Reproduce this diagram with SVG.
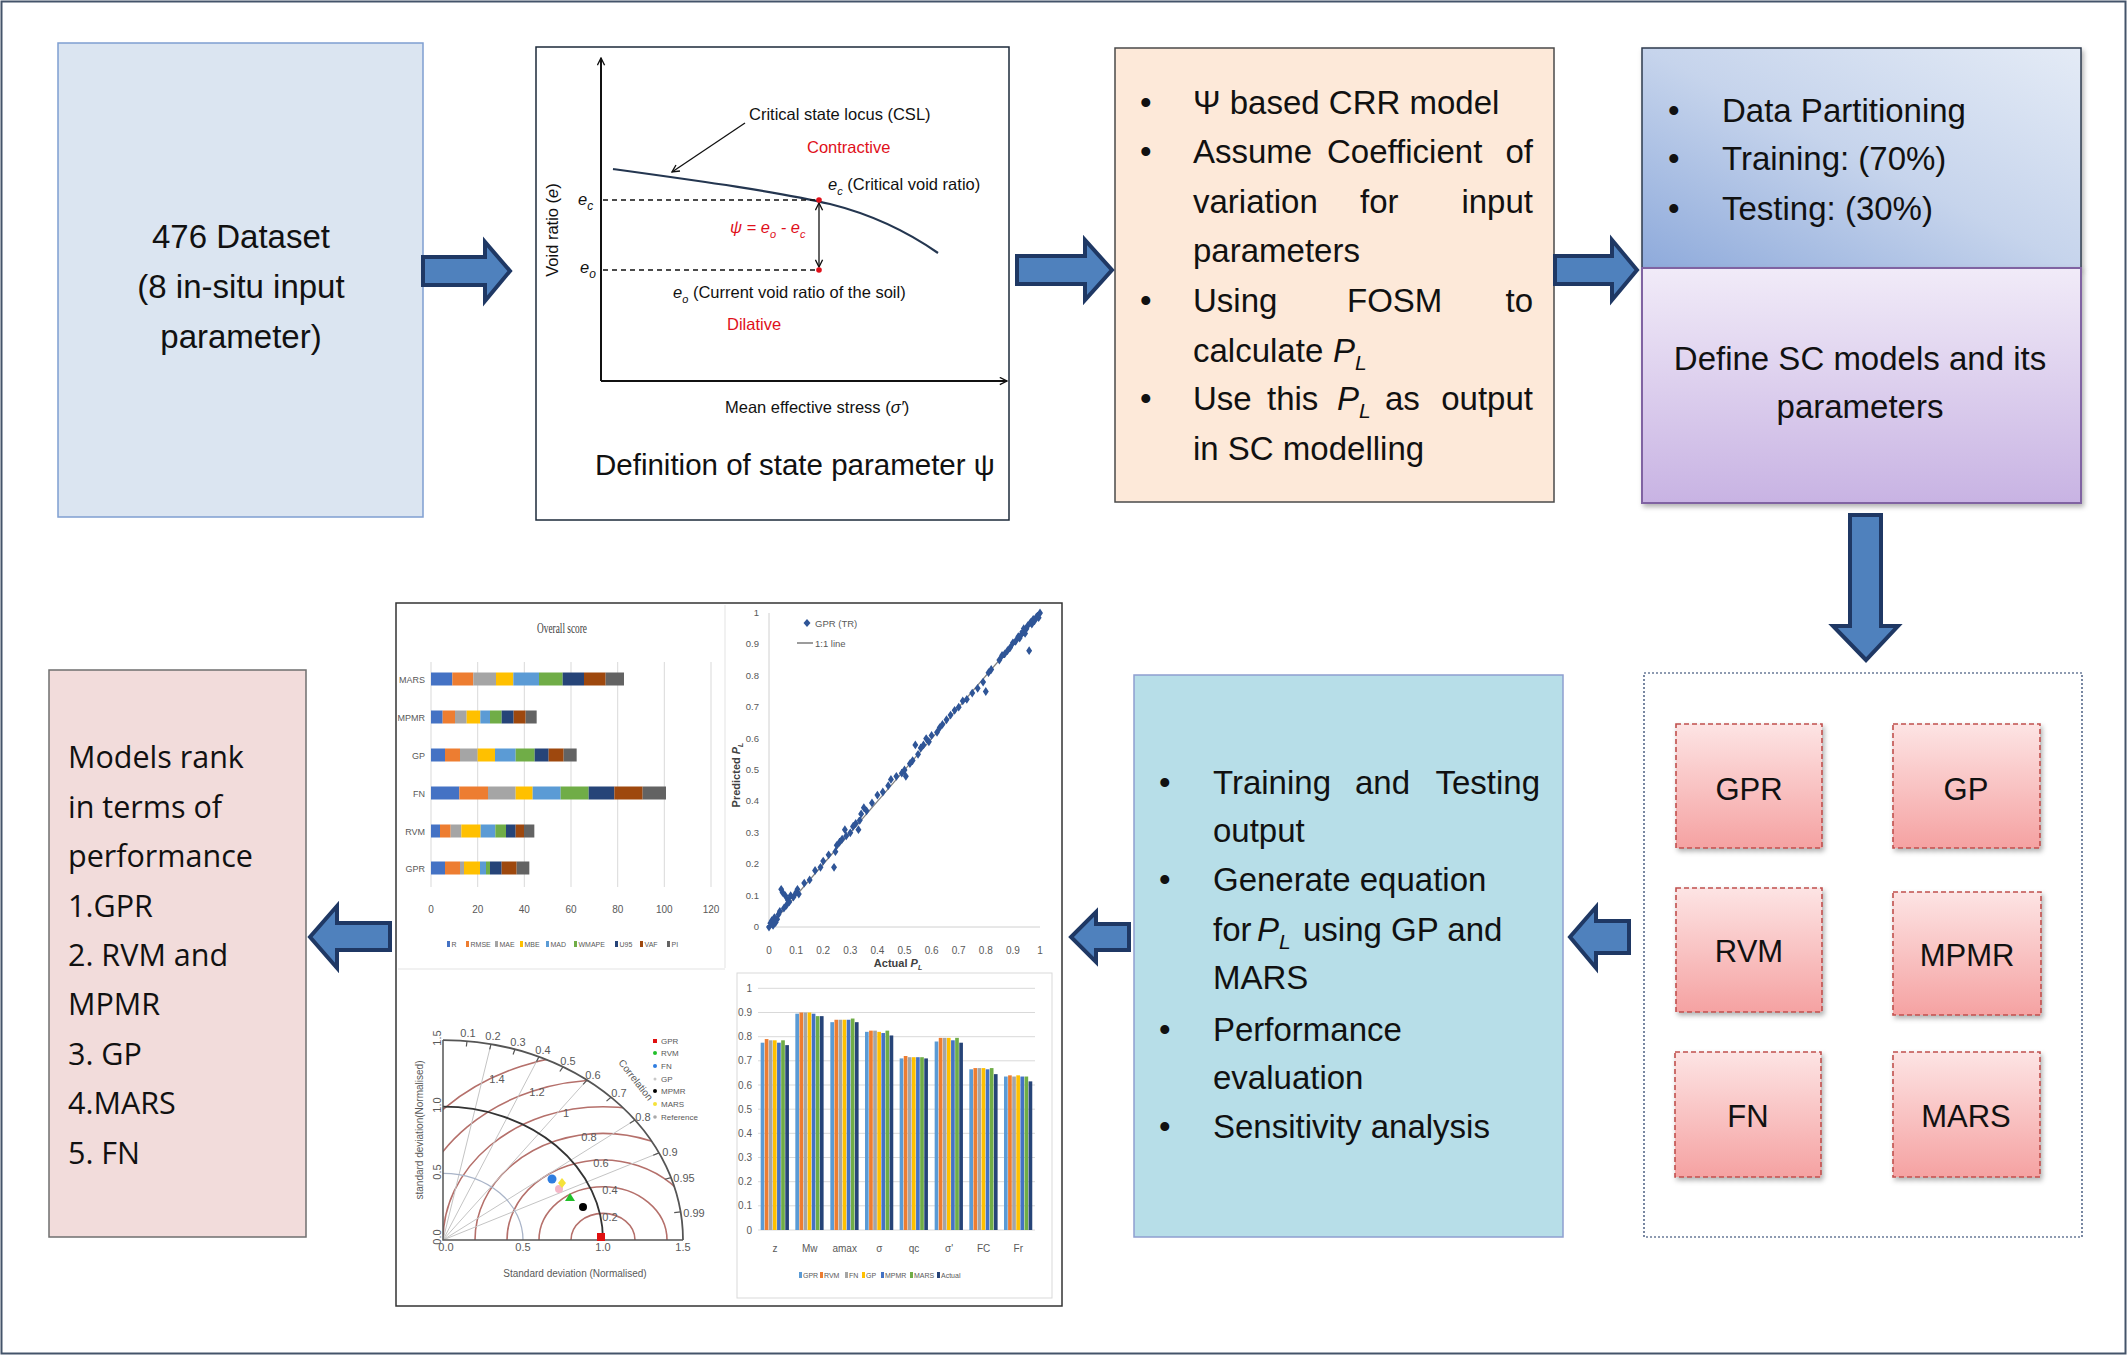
<svg xmlns="http://www.w3.org/2000/svg" width="2128" height="1356" viewBox="0 0 2128 1356">
<defs>
<style>
.t{font-family:"Liberation Sans",Arial,sans-serif;fill:#111;}
.big{font-size:33px;}
.os{font-family:"Open Sans","Liberation Sans",sans-serif;font-size:30.5px;fill:#111;}
.sm{font-family:"Liberation Sans",Arial,sans-serif;font-size:16.5px;fill:#111;}
.red{fill:#e0101a;}
.it{font-style:italic;}
.ch{font-family:"Liberation Sans Narrow","Liberation Sans",Arial,sans-serif;fill:#595959;}
.arrow{fill:#4f81bd;stroke:#1f3864;stroke-width:4;stroke-linejoin:miter;}
.model{fill:url(#gModel);stroke:#c0504d;stroke-width:1.6;stroke-dasharray:5 3;}
.grid{stroke:#d9d9d9;stroke-width:1;}
.s1{fill:#4472c4}.s2{fill:#ed7d31}.s3{fill:#a5a5a5}.s4{fill:#ffc000}.s5{fill:#5b9bd5}.s6{fill:#70ad47}.s7{fill:#264478}.s8{fill:#9e480e}.s9{fill:#636363}
.nss,.nss *{vector-effect:non-scaling-stroke;fill:none;}
</style>
<linearGradient id="gTop" x1="0" y1="1" x2="1" y2="0">
<stop offset="0" stop-color="#8eaadb"/><stop offset="0.5" stop-color="#c6d4ec"/><stop offset="1" stop-color="#e4ebf6"/>
</linearGradient>
<linearGradient id="gBot" x1="0" y1="0" x2="0" y2="1">
<stop offset="0" stop-color="#f1ebf8"/><stop offset="1" stop-color="#c8b3e3"/>
</linearGradient>
<linearGradient id="gModel" x1="0" y1="0" x2="0" y2="1">
<stop offset="0" stop-color="#fde4e4"/><stop offset="1" stop-color="#f5a2a2"/>
</linearGradient>
<filter id="sh" x="-10%" y="-10%" width="130%" height="130%">
<feDropShadow dx="2" dy="3" stdDeviation="2.5" flood-color="#000" flood-opacity="0.3"/>
</filter>
<marker id="mArr" viewBox="0 0 10 10" refX="9" refY="5" markerWidth="9" markerHeight="9" orient="auto-start-reverse" markerUnits="userSpaceOnUse">
<path d="M1,1 L9,5 L1,9" fill="none" stroke="#111" stroke-width="1.5"/>
</marker>
<clipPath id="tq"><path d="M0,0 L1.5,0 A1.5,1.5 0 0,1 0,1.5 Z"/></clipPath>
</defs>

<rect x="1.5" y="1.5" width="2124" height="1352" fill="#fff" stroke="#44546a" stroke-width="2"/>

<!-- Node 1 -->
<g id="n-dataset">
<rect x="58" y="43" width="365" height="474" fill="#dbe5f1" stroke="#7f9ed1" stroke-width="1.5"/>
<text class="t big" text-anchor="middle" x="241" y="248">476 Dataset</text>
<text class="t big" text-anchor="middle" x="241" y="298">(8 in-situ input</text>
<text class="t big" text-anchor="middle" x="241" y="348">parameter)</text>
</g>

<!-- Node 2 -->
<g id="n-state-parameter">
<rect x="536" y="47" width="473" height="473" fill="#fff" stroke="#1c2a3a" stroke-width="1.5"/>
<line x1="601" y1="381" x2="601" y2="58" stroke="#111" stroke-width="2" marker-end="url(#mArr)"/>
<line x1="601" y1="381" x2="1007" y2="381" stroke="#111" stroke-width="2" marker-end="url(#mArr)"/>
<path d="M613,169 C700,181 780,192 830,204 C870,214 905,230 938,253" fill="none" stroke="#243650" stroke-width="2.2"/>
<line x1="603" y1="200" x2="819" y2="200" stroke="#111" stroke-width="1.4" stroke-dasharray="5 4"/>
<line x1="603" y1="270" x2="819" y2="270" stroke="#111" stroke-width="1.4" stroke-dasharray="5 4"/>
<line x1="819" y1="203" x2="819" y2="267" stroke="#111" stroke-width="1.3" marker-start="url(#mArr)" marker-end="url(#mArr)"/>
<circle cx="819" cy="200" r="2.8" fill="#e0101a"/>
<circle cx="819" cy="270" r="2.8" fill="#e0101a"/>
<line x1="745" y1="123" x2="672" y2="172" stroke="#111" stroke-width="1.3" marker-end="url(#mArr)"/>
<text class="sm" transform="translate(558,230) rotate(-90)" text-anchor="middle">Void ratio (<tspan class="it">e</tspan>)</text>
<text class="sm it" x="578" y="205" font-size="18">e<tspan dy="5" font-size="12">c</tspan></text>
<text class="sm it" x="580" y="273" font-size="18">e<tspan dy="5" font-size="12">o</tspan></text>
<text class="sm" x="749" y="120">Critical state locus (CSL)</text>
<text class="sm red" x="807" y="153">Contractive</text>
<text class="sm" x="828" y="190"><tspan class="it">e</tspan><tspan class="it" dy="5" font-size="11">c</tspan><tspan dy="-5"> (Critical void ratio)</tspan></text>
<text class="sm red it" x="730" y="233">ψ = e<tspan dy="5" font-size="11">o</tspan><tspan dy="-5"> - e</tspan><tspan dy="5" font-size="11">c</tspan></text>
<text class="sm" x="673" y="298"><tspan class="it">e</tspan><tspan class="it" dy="5" font-size="11">o</tspan><tspan dy="-5"> (Current void ratio of the soil)</tspan></text>
<text class="sm red" x="727" y="330">Dilative</text>
<text class="sm" x="725" y="413">Mean effective stress (<tspan class="it">σ′</tspan>)</text>
<text class="t" x="595" y="475" font-size="29.5">Definition of state parameter ψ</text>
</g>

<!-- Node 3 -->
<g id="n-crr-model">
<rect x="1115" y="48" width="439" height="454" fill="#fde9d9" stroke="#4a4a4a" stroke-width="1.5"/>
<g class="t big">
<text x="1140" y="114">•</text>
<text x="1193" y="114">Ψ based  CRR model</text>
<text x="1140" y="163">•</text>
<text x="1193" y="163">Assume</text><text x="1327" y="163">Coefficient</text><text x="1533" y="163" text-anchor="end">of</text>
<text x="1193" y="213">variation</text><text x="1360" y="213">for</text><text x="1533" y="213" text-anchor="end">input</text>
<text x="1193" y="262">parameters</text>
<text x="1140" y="312">•</text>
<text x="1193" y="312">Using</text><text x="1347" y="312">FOSM</text><text x="1533" y="312" text-anchor="end">to</text>
<text x="1193" y="362">calculate</text><text x="1333" y="362" class="it">P<tspan dy="8" font-size="21">L</tspan></text>
<text x="1140" y="410">•</text>
<text x="1193" y="410">Use</text><text x="1267" y="410">this</text><text x="1337" y="410" class="it">P<tspan dy="8" font-size="21">L</tspan></text><text x="1385" y="410">as</text><text x="1533" y="410" text-anchor="end">output</text>
<text x="1193" y="460">in SC modelling</text>
</g>
</g>

<!-- Node 4 -->
<g id="n-partitioning">
<rect x="1642" y="48" width="439" height="220" fill="url(#gTop)" stroke="#2e3b4e" stroke-width="1.5" filter="url(#sh)"/>
<g class="t big">
<text x="1668" y="122">•</text><text x="1722" y="122">Data Partitioning</text>
<text x="1668" y="170">•</text><text x="1722" y="170">Training: (70%)</text>
<text x="1668" y="220">•</text><text x="1722" y="220">Testing: (30%)</text>
</g>
</g>
<g id="n-define-sc">
<rect x="1642" y="268" width="439" height="235" fill="url(#gBot)" stroke="#8064a2" stroke-width="2" filter="url(#sh)"/>
<text class="t big" text-anchor="middle" x="1860" y="370">Define SC models and its</text>
<text class="t big" text-anchor="middle" x="1860" y="418">parameters</text>
</g>

<!-- Models container -->
<g id="n-models">
<rect x="1644" y="673" width="438" height="564" fill="#fff" stroke="#1f3864" stroke-width="1.2" stroke-dasharray="2 2"/>
<g id="m-gpr"><rect class="model" x="1676" y="724" width="146" height="124" filter="url(#sh)"/><text class="t" font-size="31" text-anchor="middle" x="1749" y="800">GPR</text></g>
<g id="m-gp"><rect class="model" x="1893" y="724" width="147" height="124" filter="url(#sh)"/><text class="t" font-size="31" text-anchor="middle" x="1966" y="800">GP</text></g>
<g id="m-rvm"><rect class="model" x="1676" y="888" width="146" height="124" filter="url(#sh)"/><text class="t" font-size="31" text-anchor="middle" x="1749" y="962">RVM</text></g>
<g id="m-mpmr"><rect class="model" x="1893" y="892" width="148" height="123" filter="url(#sh)"/><text class="t" font-size="31" text-anchor="middle" x="1967" y="966">MPMR</text></g>
<g id="m-fn"><rect class="model" x="1675" y="1052" width="146" height="125" filter="url(#sh)"/><text class="t" font-size="31" text-anchor="middle" x="1748" y="1127">FN</text></g>
<g id="m-mars"><rect class="model" x="1893" y="1052" width="147" height="125" filter="url(#sh)"/><text class="t" font-size="31" text-anchor="middle" x="1966" y="1127">MARS</text></g>
</g>

<!-- Node: outputs -->
<g id="n-outputs">
<rect x="1134" y="675" width="429" height="562" fill="#b7dee8" stroke="#8e9fd0" stroke-width="1.5"/>
<g class="t big">
<text x="1159" y="794">•</text>
<text x="1213" y="794">Training</text><text x="1355" y="794">and</text><text x="1540" y="794" text-anchor="end">Testing</text>
<text x="1213" y="842">output</text>
<text x="1159" y="891">•</text>
<text x="1213" y="891">Generate equation</text>
<text x="1213" y="941">for</text><text x="1257" y="941" class="it">P<tspan dy="8" font-size="21">L</tspan></text><text x="1303" y="941">using GP and</text>
<text x="1213" y="989">MARS</text>
<text x="1159" y="1041">•</text>
<text x="1213" y="1041">Performance</text>
<text x="1213" y="1089">evaluation</text>
<text x="1159" y="1138">•</text>
<text x="1213" y="1138">Sensitivity analysis</text>
</g>
</g>

<!-- Node: charts -->
<g id="n-charts">
<rect x="396" y="603" width="666" height="703" fill="#fff" stroke="#333" stroke-width="1.5"/>
<line x1="725" y1="605" x2="725" y2="968" stroke="#e3e3e3"/>
<line x1="398" y1="969" x2="725" y2="969" stroke="#e3e3e3"/>

<!-- Overall score -->
<g id="c-overall">
<text x="562" y="633" font-family="'Liberation Serif',serif" font-size="14" fill="#404040" text-anchor="middle" textLength="50" lengthAdjust="spacingAndGlyphs">Overall score</text>
<g class="grid">
<line x1="431" y1="662" x2="431" y2="887"/><line x1="477.7" y1="662" x2="477.7" y2="887"/><line x1="524.3" y1="662" x2="524.3" y2="887"/><line x1="571" y1="662" x2="571" y2="887"/><line x1="617.7" y1="662" x2="617.7" y2="887"/><line x1="664.3" y1="662" x2="664.3" y2="887"/><line x1="711" y1="662" x2="711" y2="887"/>
</g>
<g transform="translate(390,0) scale(0.33333,1)">
<rect class="s1" x="123" y="672.5" width="64" height="13"/><rect class="s2" x="187" y="672.5" width="63" height="13"/><rect class="s3" x="250" y="672.5" width="68" height="13"/><rect class="s4" x="318" y="672.5" width="52" height="13"/><rect class="s5" x="370" y="672.5" width="77" height="13"/><rect class="s6" x="447" y="672.5" width="71" height="13"/><rect class="s7" x="518" y="672.5" width="64" height="13"/><rect class="s8" x="582" y="672.5" width="65" height="13"/><rect class="s9" x="647" y="672.5" width="55" height="13"/>
<rect class="s1" x="123" y="710.5" width="35" height="13"/><rect class="s2" x="158" y="710.5" width="37" height="13"/><rect class="s3" x="195" y="710.5" width="35" height="13"/><rect class="s4" x="230" y="710.5" width="41" height="13"/><rect class="s5" x="271" y="710.5" width="29" height="13"/><rect class="s6" x="300" y="710.5" width="35" height="13"/><rect class="s7" x="335" y="710.5" width="36" height="13"/><rect class="s8" x="371" y="710.5" width="36" height="13"/><rect class="s9" x="407" y="710.5" width="33" height="13"/>
<rect class="s1" x="123" y="748.5" width="42" height="13"/><rect class="s2" x="165" y="748.5" width="45" height="13"/><rect class="s3" x="210" y="748.5" width="53" height="13"/><rect class="s4" x="263" y="748.5" width="52" height="13"/><rect class="s5" x="315" y="748.5" width="62" height="13"/><rect class="s6" x="377" y="748.5" width="57" height="13"/><rect class="s7" x="434" y="748.5" width="42" height="13"/><rect class="s8" x="476" y="748.5" width="45" height="13"/><rect class="s9" x="521" y="748.5" width="39" height="13"/>
<rect class="s1" x="123" y="786.5" width="85" height="13"/><rect class="s2" x="208" y="786.5" width="86" height="13"/><rect class="s3" x="294" y="786.5" width="83" height="13"/><rect class="s4" x="377" y="786.5" width="51" height="13"/><rect class="s5" x="428" y="786.5" width="84" height="13"/><rect class="s6" x="512" y="786.5" width="84" height="13"/><rect class="s7" x="596" y="786.5" width="77" height="13"/><rect class="s8" x="673" y="786.5" width="85" height="13"/><rect class="s9" x="758" y="786.5" width="70" height="13"/>
<rect class="s1" x="123" y="824.5" width="27" height="13"/><rect class="s2" x="150" y="824.5" width="32" height="13"/><rect class="s3" x="182" y="824.5" width="32" height="13"/><rect class="s4" x="214" y="824.5" width="58" height="13"/><rect class="s5" x="272" y="824.5" width="44" height="13"/><rect class="s6" x="316" y="824.5" width="32" height="13"/><rect class="s7" x="348" y="824.5" width="29" height="13"/><rect class="s8" x="377" y="824.5" width="25" height="13"/><rect class="s9" x="402" y="824.5" width="31" height="13"/>
<rect class="s1" x="123" y="861.5" width="42" height="13"/><rect class="s2" x="165" y="861.5" width="45" height="13"/><rect class="s3" x="210" y="861.5" width="12" height="13"/><rect class="s4" x="222" y="861.5" width="48" height="13"/><rect class="s5" x="270" y="861.5" width="18" height="13"/><rect class="s6" x="288" y="861.5" width="12" height="13"/><rect class="s7" x="300" y="861.5" width="35" height="13"/><rect class="s8" x="335" y="861.5" width="45" height="13"/><rect class="s9" x="380" y="861.5" width="38" height="13"/>
</g>
<g class="ch" font-size="9" text-anchor="end">
<text x="425" y="683">MARS</text><text x="425" y="721">MPMR</text><text x="425" y="759">GP</text><text x="425" y="797">FN</text><text x="425" y="835">RVM</text><text x="425" y="872">GPR</text>
</g>
<g class="ch" font-size="10" text-anchor="middle">
<text x="431" y="913">0</text><text x="477.7" y="913">20</text><text x="524.3" y="913">40</text><text x="571" y="913">60</text><text x="617.7" y="913">80</text><text x="664.3" y="913">100</text><text x="711" y="913">120</text>
</g>
<g class="ch" font-size="7">
<rect class="s1" x="447" y="941" width="3" height="6"/><text x="451.5" y="947">R</text>
<rect class="s2" x="466" y="941" width="3" height="6"/><text x="470.5" y="947">RMSE</text>
<rect class="s3" x="495" y="941" width="3" height="6"/><text x="499.5" y="947">MAE</text>
<rect class="s4" x="520" y="941" width="3" height="6"/><text x="524.5" y="947">MBE</text>
<rect class="s5" x="546" y="941" width="3" height="6"/><text x="550.5" y="947">MAD</text>
<rect class="s6" x="574" y="941" width="3" height="6"/><text x="578.5" y="947">WMAPE</text>
<rect class="s7" x="615" y="941" width="3" height="6"/><text x="619.5" y="947">U95</text>
<rect class="s8" x="640" y="941" width="3" height="6"/><text x="644.5" y="947">VAF</text>
<rect class="s9" x="667" y="941" width="3" height="6"/><text x="671.5" y="947">PI</text>
</g>
</g>

<!-- Scatter -->
<g id="c-scatter">
<line x1="769" y1="613" x2="769" y2="927" stroke="#d0d0d0"/>
<line x1="769" y1="927" x2="1040" y2="927" stroke="#d0d0d0"/>
<line x1="769" y1="927" x2="1040" y2="613" stroke="#808080" stroke-width="1.2"/>
<g transform="translate(769,927) scale(271,-314)" fill="#2f5597">
<path d="M0,0m-.011,0l.011,.014l.011,-.014l-.011,-.014z M.005,.012m-.011,0l.011,.014l.011,-.014l-.011,-.014z M.01,.02m-.011,0l.011,.014l.011,-.014l-.011,-.014z M.015,.005m-.011,0l.011,.014l.011,-.014l-.011,-.014z M.02,.03m-.011,0l.011,.014l.011,-.014l-.011,-.014z M.025,.015m-.011,0l.011,.014l.011,-.014l-.011,-.014z M.03,.025m-.011,0l.011,.014l.011,-.014l-.011,-.014z M.035,.04m-.011,0l.011,.014l.011,-.014l-.011,-.014z M.04,.05m-.011,0l.011,.014l.011,-.014l-.011,-.014z M.045,.12m-.011,0l.011,.014l.011,-.014l-.011,-.014z M.05,.11m-.011,0l.011,.014l.011,-.014l-.011,-.014z M.055,.06m-.011,0l.011,.014l.011,-.014l-.011,-.014z M.06,.1m-.011,0l.011,.014l.011,-.014l-.011,-.014z M.065,.07m-.011,0l.011,.014l.011,-.014l-.011,-.014z M.07,.085m-.011,0l.011,.014l.011,-.014l-.011,-.014z M.075,.08m-.011,0l.011,.014l.011,-.014l-.011,-.014z M.08,.1m-.011,0l.011,.014l.011,-.014l-.011,-.014z M.09,.095m-.011,0l.011,.014l.011,-.014l-.011,-.014z M.1,.11m-.011,0l.011,.014l.011,-.014l-.011,-.014z M.105,.12m-.011,0l.011,.014l.011,-.014l-.011,-.014z M.11,.105m-.011,0l.011,.014l.011,-.014l-.011,-.014z M.13,.14m-.011,0l.011,.014l.011,-.014l-.011,-.014z M.15,.15m-.011,0l.011,.014l.011,-.014l-.011,-.014z M.17,.18m-.011,0l.011,.014l.011,-.014l-.011,-.014z M.19,.19m-.011,0l.011,.014l.011,-.014l-.011,-.014z M.2,.21m-.011,0l.011,.014l.011,-.014l-.011,-.014z M.22,.23m-.011,0l.011,.014l.011,-.014l-.011,-.014z M.24,.19m-.011,0l.011,.014l.011,-.014l-.011,-.014z M.245,.24m-.011,0l.011,.014l.011,-.014l-.011,-.014z M.25,.26m-.011,0l.011,.014l.011,-.014l-.011,-.014z M.26,.27m-.011,0l.011,.014l.011,-.014l-.011,-.014z M.27,.28m-.011,0l.011,.014l.011,-.014l-.011,-.014z M.28,.31m-.011,0l.011,.014l.011,-.014l-.011,-.014z M.285,.29m-.011,0l.011,.014l.011,-.014l-.011,-.014z M.3,.3m-.011,0l.011,.014l.011,-.014l-.011,-.014z M.31,.32m-.011,0l.011,.014l.011,-.014l-.011,-.014z M.32,.33m-.011,0l.011,.014l.011,-.014l-.011,-.014z M.33,.31m-.011,0l.011,.014l.011,-.014l-.011,-.014z M.335,.34m-.011,0l.011,.014l.011,-.014l-.011,-.014z M.34,.36m-.011,0l.011,.014l.011,-.014l-.011,-.014z M.35,.38m-.011,0l.011,.014l.011,-.014l-.011,-.014z M.36,.37m-.011,0l.011,.014l.011,-.014l-.011,-.014z M.38,.395m-.011,0l.011,.014l.011,-.014l-.011,-.014z M.4,.42m-.011,0l.011,.014l.011,-.014l-.011,-.014z M.42,.43m-.011,0l.011,.014l.011,-.014l-.011,-.014z M.44,.45m-.011,0l.011,.014l.011,-.014l-.011,-.014z M.45,.47m-.011,0l.011,.014l.011,-.014l-.011,-.014z M.47,.48m-.011,0l.011,.014l.011,-.014l-.011,-.014z M.49,.49m-.011,0l.011,.014l.011,-.014l-.011,-.014z M.5,.5m-.011,0l.011,.014l.011,-.014l-.011,-.014z M.505,.48m-.011,0l.011,.014l.011,-.014l-.011,-.014z M.52,.52m-.011,0l.011,.014l.011,-.014l-.011,-.014z M.53,.53m-.011,0l.011,.014l.011,-.014l-.011,-.014z M.54,.58m-.011,0l.011,.014l.011,-.014l-.011,-.014z M.55,.55m-.011,0l.011,.014l.011,-.014l-.011,-.014z M.56,.57m-.011,0l.011,.014l.011,-.014l-.011,-.014z M.57,.58m-.011,0l.011,.014l.011,-.014l-.011,-.014z M.58,.6m-.011,0l.011,.014l.011,-.014l-.011,-.014z M.59,.59m-.011,0l.011,.014l.011,-.014l-.011,-.014z M.6,.61m-.011,0l.011,.014l.011,-.014l-.011,-.014z M.62,.62m-.011,0l.011,.014l.011,-.014l-.011,-.014z M.63,.635m-.011,0l.011,.014l.011,-.014l-.011,-.014z M.64,.645m-.011,0l.011,.014l.011,-.014l-.011,-.014z M.655,.66m-.011,0l.011,.014l.011,-.014l-.011,-.014z M.67,.675m-.011,0l.011,.014l.011,-.014l-.011,-.014z M.685,.69m-.011,0l.011,.014l.011,-.014l-.011,-.014z M.7,.7m-.011,0l.011,.014l.011,-.014l-.011,-.014z M.715,.72m-.011,0l.011,.014l.011,-.014l-.011,-.014z M.73,.725m-.011,0l.011,.014l.011,-.014l-.011,-.014z M.75,.745m-.011,0l.011,.014l.011,-.014l-.011,-.014z M.77,.76m-.011,0l.011,.014l.011,-.014l-.011,-.014z M.79,.78m-.011,0l.011,.014l.011,-.014l-.011,-.014z M.8,.75m-.011,0l.011,.014l.011,-.014l-.011,-.014z M.81,.81m-.011,0l.011,.014l.011,-.014l-.011,-.014z M.82,.82m-.011,0l.011,.014l.011,-.014l-.011,-.014z M.85,.85m-.011,0l.011,.014l.011,-.014l-.011,-.014z M.86,.865m-.011,0l.011,.014l.011,-.014l-.011,-.014z M.87,.87m-.011,0l.011,.014l.011,-.014l-.011,-.014z M.88,.88m-.011,0l.011,.014l.011,-.014l-.011,-.014z M.89,.89m-.011,0l.011,.014l.011,-.014l-.011,-.014z M.9,.905m-.011,0l.011,.014l.011,-.014l-.011,-.014z M.91,.91m-.011,0l.011,.014l.011,-.014l-.011,-.014z M.92,.925m-.011,0l.011,.014l.011,-.014l-.011,-.014z M.93,.93m-.011,0l.011,.014l.011,-.014l-.011,-.014z M.935,.94m-.011,0l.011,.014l.011,-.014l-.011,-.014z M.94,.95m-.011,0l.011,.014l.011,-.014l-.011,-.014z M.95,.95m-.011,0l.011,.014l.011,-.014l-.011,-.014z M.955,.96m-.011,0l.011,.014l.011,-.014l-.011,-.014z M.96,.88m-.011,0l.011,.014l.011,-.014l-.011,-.014z M.965,.97m-.011,0l.011,.014l.011,-.014l-.011,-.014z M.97,.965m-.011,0l.011,.014l.011,-.014l-.011,-.014z M.975,.98m-.011,0l.011,.014l.011,-.014l-.011,-.014z M.98,.975m-.011,0l.011,.014l.011,-.014l-.011,-.014z M.985,.985m-.011,0l.011,.014l.011,-.014l-.011,-.014z M.99,.99m-.011,0l.011,.014l.011,-.014l-.011,-.014z M.995,.985m-.011,0l.011,.014l.011,-.014l-.011,-.014z M1,1m-.011,0l.011,.014l.011,-.014l-.011,-.014z M.945,.935m-.011,0l.011,.014l.011,-.014l-.011,-.014z M.925,.92m-.011,0l.011,.014l.011,-.014l-.011,-.014z"/>
</g>
<g class="ch" font-size="9.5" text-anchor="end">
<text x="759" y="930">0</text><text x="759" y="898.6">0.1</text><text x="759" y="867.2">0.2</text><text x="759" y="835.8">0.3</text><text x="759" y="804.4">0.4</text><text x="759" y="773">0.5</text><text x="759" y="741.6">0.6</text><text x="759" y="710.2">0.7</text><text x="759" y="678.8">0.8</text><text x="759" y="647.4">0.9</text><text x="759" y="616">1</text>
</g>
<g class="ch" font-size="10" text-anchor="middle">
<text x="769" y="954">0</text><text x="796.1" y="954">0.1</text><text x="823.2" y="954">0.2</text><text x="850.3" y="954">0.3</text><text x="877.4" y="954">0.4</text><text x="904.5" y="954">0.5</text><text x="931.6" y="954">0.6</text><text x="958.7" y="954">0.7</text><text x="985.8" y="954">0.8</text><text x="1012.9" y="954">0.9</text><text x="1040" y="954">1</text>
</g>
<text x="898" y="967" font-family="'Liberation Sans',Arial,sans-serif" font-size="11" font-weight="bold" fill="#404040" text-anchor="middle">Actual <tspan font-style="italic">P</tspan><tspan font-style="italic" font-size="7" dy="3">L</tspan></text>
<text transform="translate(740,775) rotate(-90)" font-family="'Liberation Sans',Arial,sans-serif" font-size="11" font-weight="bold" fill="#404040" text-anchor="middle">Predicted <tspan font-style="italic">P</tspan><tspan font-style="italic" font-size="7" dy="3">L</tspan></text>
<path d="M807,619 l3.5,4 -3.5,4 -3.5,-4z" fill="#2f5597"/>
<text class="ch" x="815" y="627" font-size="9.5">GPR (TR)</text>
<line x1="797" y1="643" x2="813" y2="643" stroke="#595959" stroke-width="1.2"/>
<text class="ch" x="815" y="647" font-size="9.5">1:1 line</text>
</g>

<!-- Taylor diagram -->
<g id="c-taylor">
<g transform="translate(443,1240) scale(160,-133.3)">
<g clip-path="url(#tq)">
<g class="nss" stroke="#b5706b" stroke-width="1.6">
<circle cx="1" cy="0" r="0.2"/><circle cx="1" cy="0" r="0.4"/><circle cx="1" cy="0" r="0.6"/><circle cx="1" cy="0" r="0.8"/><circle cx="1" cy="0" r="1.0"/><circle cx="1" cy="0" r="1.2"/><circle cx="1" cy="0" r="1.4"/>
</g>
</g>
<g class="nss" stroke="#c4c4c4" stroke-width="1">
<line x1="0" y1="0" x2="0.3" y2="1.4697"/><line x1="0" y1="0" x2="0.6" y2="1.3748"/><line x1="0" y1="0" x2="0.9" y2="1.2"/><line x1="0" y1="0" x2="1.2" y2="0.9"/><line x1="0" y1="0" x2="1.35" y2="0.6538"/>
</g>
<path class="nss" d="M0.5,0 A0.5,0.5 0 0,1 0,0.5" stroke="#a9b4c8" stroke-width="1.3"/>
<path class="nss" d="M1,0 A1,1 0 0,1 0,1" stroke="#333" stroke-width="1.8"/>
<path class="nss" d="M1.5,0 A1.5,1.5 0 0,1 0,1.5" stroke="#555" stroke-width="1.8"/>
<path class="nss" d="M0,1.5 L0,0 L1.5,0" stroke="#555" stroke-width="1.5"/>
<g class="nss" stroke="#555" stroke-width="1.2">
<line x1="0.15" y1="1.4925" x2="0.146" y2="1.452"/><line x1="0.3" y1="1.4697" x2="0.292" y2="1.43"/><line x1="0.45" y1="1.4309" x2="0.438" y2="1.392"/><line x1="0.6" y1="1.3748" x2="0.584" y2="1.338"/><line x1="0.75" y1="1.299" x2="0.73" y2="1.264"/><line x1="0.9" y1="1.2" x2="0.876" y2="1.168"/><line x1="1.05" y1="1.0712" x2="1.022" y2="1.042"/><line x1="1.2" y1="0.9" x2="1.168" y2="0.876"/><line x1="1.35" y1="0.6538" x2="1.314" y2="0.636"/><line x1="1.425" y1="0.4684" x2="1.387" y2="0.456"/><line x1="1.485" y1="0.2116" x2="1.445" y2="0.206"/>
</g>
</g>
<g class="ch" font-size="11" fill="#333" text-anchor="middle">
<text x="497" y="1083">1.4</text><text x="537" y="1096">1.2</text><text x="566" y="1117">1</text><text x="589" y="1141">0.8</text><text x="601" y="1167">0.6</text><text x="610" y="1194">0.4</text><text x="610" y="1221">0.2</text>
<text x="468" y="1037">0.1</text><text x="493" y="1040">0.2</text><text x="518" y="1046">0.3</text><text x="543" y="1054">0.4</text><text x="568" y="1065">0.5</text><text x="593" y="1079">0.6</text><text x="619" y="1097">0.7</text><text x="643" y="1121">0.8</text><text x="670" y="1156">0.9</text><text x="684" y="1182">0.95</text><text x="694" y="1217">0.99</text>
<text x="446" y="1251">0.0</text><text x="523" y="1251">0.5</text><text x="603" y="1251">1.0</text><text x="683" y="1251">1.5</text>
</g>
<g class="ch" font-size="11" fill="#333" text-anchor="middle">
<text transform="translate(441,1038) rotate(-90)">1.5</text>
<text transform="translate(441,1105) rotate(-90)">1.0</text>
<text transform="translate(441,1172) rotate(-90)">0.5</text>
<text transform="translate(441,1237) rotate(-90)">0.0</text>
</g>
<text class="ch" font-size="10" fill="#333" transform="translate(633,1082) rotate(52)" text-anchor="middle">Correlation</text>
<text class="ch" font-size="10" fill="#333" x="575" y="1277" text-anchor="middle">Standard deviation (Normalised)</text>
<text class="ch" font-size="10" fill="#333" transform="translate(423,1130) rotate(-90)" text-anchor="middle">standard deviation(Normalised)</text>
<rect x="597" y="1233" width="8" height="8" fill="#e01010"/>
<path d="M570,1193 l5,8 -10,0z" fill="#22c02a"/>
<circle cx="552" cy="1179" r="4.5" fill="#2f7de0"/>
<circle cx="559" cy="1189" r="4" fill="#f4b6c6"/>
<path d="M562,1178 l4,5 -4,5 -4,-5z" fill="#f5e23a"/>
<circle cx="583" cy="1207" r="4" fill="#000"/>
<g class="ch" font-size="8" fill="#333">
<rect x="653" y="1039" width="4" height="4" fill="#e01010"/><text x="661" y="1044">GPR</text>
<circle cx="655" cy="1053" r="2" fill="#22c02a"/><text x="661" y="1056">RVM</text>
<circle cx="655" cy="1066" r="2" fill="#2f7de0"/><text x="661" y="1069">FN</text>
<circle cx="655" cy="1079" r="1.5" fill="#c8c8c8"/><text x="661" y="1082">GP</text>
<circle cx="655" cy="1091" r="2" fill="#000"/><text x="661" y="1094">MPMR</text>
<circle cx="655" cy="1104" r="2" fill="#f5e23a"/><text x="661" y="1107">MARS</text>
<circle cx="655" cy="1117" r="1.8" fill="#aaa"/><text x="661" y="1120">Reference</text>
</g>
</g>

<!-- Sensitivity chart -->
<g id="c-sensitivity">
<rect x="737" y="973" width="315" height="325" fill="#fff" stroke="#d9d9d9"/>
<g class="grid">
<line x1="758" y1="988.3" x2="1035" y2="988.3"/><line x1="758" y1="1012.5" x2="1035" y2="1012.5"/><line x1="758" y1="1036.7" x2="1035" y2="1036.7"/><line x1="758" y1="1060.8" x2="1035" y2="1060.8"/><line x1="758" y1="1085" x2="1035" y2="1085"/><line x1="758" y1="1109.2" x2="1035" y2="1109.2"/><line x1="758" y1="1133.3" x2="1035" y2="1133.3"/><line x1="758" y1="1157.5" x2="1035" y2="1157.5"/><line x1="758" y1="1181.7" x2="1035" y2="1181.7"/><line x1="758" y1="1205.8" x2="1035" y2="1205.8"/><line x1="758" y1="1230" x2="1035" y2="1230"/>
</g>
<g transform="translate(720,960) scale(0.33333) translate(0,810) scale(1,-1)">
<rect class="s5" x="122" width="11" height="561.9"/><rect class="s2" x="134.3" width="11" height="572.8"/><rect class="s3" x="146.6" width="11" height="569.1"/><rect class="s4" x="158.9" width="11" height="569.1"/><rect class="s1" x="171.2" width="11" height="561.9"/><rect class="s6" x="183.5" width="11" height="569.1"/><rect class="s7" x="195.8" width="11" height="554.6"/>
<rect class="s5" x="226" width="11" height="648.9"/><rect class="s2" x="238.3" width="11" height="652.5"/><rect class="s3" x="250.6" width="11" height="652.5"/><rect class="s4" x="262.9" width="11" height="652.5"/><rect class="s1" x="275.2" width="11" height="648.9"/><rect class="s6" x="287.5" width="11" height="641.6"/><rect class="s7" x="299.8" width="11" height="641.6"/>
<rect class="s5" x="331" width="11" height="623.5"/><rect class="s2" x="343.3" width="11" height="630.75"/><rect class="s3" x="355.6" width="11" height="630.75"/><rect class="s4" x="367.9" width="11" height="630.75"/><rect class="s1" x="380.2" width="11" height="630.75"/><rect class="s6" x="392.5" width="11" height="634.4"/><rect class="s7" x="404.8" width="11" height="623.5"/>
<rect class="s5" x="435" width="11" height="594.5"/><rect class="s2" x="447.3" width="11" height="598.1"/><rect class="s3" x="459.6" width="11" height="598.1"/><rect class="s4" x="471.9" width="11" height="594.5"/><rect class="s1" x="484.2" width="11" height="590.9"/><rect class="s6" x="496.5" width="11" height="598.1"/><rect class="s7" x="508.8" width="11" height="583.6"/>
<rect class="s5" x="539" width="11" height="514.75"/><rect class="s2" x="551.3" width="11" height="522"/><rect class="s3" x="563.6" width="11" height="518.4"/><rect class="s4" x="575.9" width="11" height="518.4"/><rect class="s1" x="588.2" width="11" height="518.4"/><rect class="s6" x="600.5" width="11" height="518.4"/><rect class="s7" x="612.8" width="11" height="514.75"/>
<rect class="s5" x="644" width="11" height="565.5"/><rect class="s2" x="656.3" width="11" height="576.4"/><rect class="s3" x="668.6" width="11" height="576.4"/><rect class="s4" x="680.9" width="11" height="576.4"/><rect class="s1" x="693.2" width="11" height="569.1"/><rect class="s6" x="705.5" width="11" height="576.4"/><rect class="s7" x="717.8" width="11" height="561.9"/>
<rect class="s5" x="748" width="11" height="482.1"/><rect class="s2" x="760.3" width="11" height="485.75"/><rect class="s3" x="772.6" width="11" height="485.75"/><rect class="s4" x="784.9" width="11" height="485.75"/><rect class="s1" x="797.2" width="11" height="482.1"/><rect class="s6" x="809.5" width="11" height="485.75"/><rect class="s7" x="821.8" width="11" height="467.6"/>
<rect class="s5" x="852" width="11" height="460.4"/><rect class="s2" x="864.3" width="11" height="464"/><rect class="s3" x="876.6" width="11" height="460.4"/><rect class="s4" x="888.9" width="11" height="464"/><rect class="s1" x="901.2" width="11" height="460.4"/><rect class="s6" x="913.5" width="11" height="460.4"/><rect class="s7" x="925.8" width="11" height="445.9"/>
</g>
<g class="ch" font-size="10" text-anchor="end">
<text x="752" y="1233.5">0</text><text x="752" y="1209.3">0.1</text><text x="752" y="1185.2">0.2</text><text x="752" y="1161">0.3</text><text x="752" y="1136.8">0.4</text><text x="752" y="1112.7">0.5</text><text x="752" y="1088.5">0.6</text><text x="752" y="1064.3">0.7</text><text x="752" y="1040.2">0.8</text><text x="752" y="1016">0.9</text><text x="752" y="991.8">1</text>
</g>
<g class="ch" font-size="10" text-anchor="middle">
<text x="775" y="1252">z</text><text x="809.7" y="1252">Mw</text><text x="844.7" y="1252">amax</text><text x="879.3" y="1252">σ</text><text x="914" y="1252">qc</text><text x="949" y="1252">σ'</text><text x="983.7" y="1252">FC</text><text x="1018.3" y="1252">Fr</text>
</g>
<g class="ch" font-size="7">
<rect class="s5" x="799" y="1272" width="3" height="6"/><text x="803" y="1278">GPR</text>
<rect class="s2" x="820" y="1272" width="3" height="6"/><text x="824" y="1278">RVM</text>
<rect class="s3" x="845" y="1272" width="3" height="6"/><text x="849" y="1278">FN</text>
<rect class="s4" x="862" y="1272" width="3" height="6"/><text x="866" y="1278">GP</text>
<rect class="s1" x="881" y="1272" width="3" height="6"/><text x="885" y="1278">MPMR</text>
<rect class="s6" x="910" y="1272" width="3" height="6"/><text x="914" y="1278">MARS</text>
<rect class="s7" x="937" y="1272" width="3" height="6"/><text x="941" y="1278">Actual</text>
</g>
</g>
</g>

<!-- Node: ranking -->
<g id="n-ranking">
<rect x="49" y="670" width="257" height="567" fill="#f2dcdb" stroke="#6f6f6f" stroke-width="1.5"/>
<text class="os" x="68" y="768">Models rank</text>
<text class="os" x="68" y="818">in terms of</text>
<text class="os" x="68" y="867">performance</text>
<text class="os" x="68" y="917">1.GPR</text>
<text class="os" x="68" y="966">2. RVM and</text>
<text class="os" x="68" y="1015">MPMR</text>
<text class="os" x="68" y="1065">3. GP</text>
<text class="os" x="68" y="1114">4.MARS</text>
<text class="os" x="68" y="1164">5. FN</text>
</g>

<!-- Connectors -->
<g id="connectors">
<polygon class="arrow" points="423,257 485,257 485,242 510,271 485,301 485,285 423,285"/>
<polygon class="arrow" points="1017,256 1085,256 1085,240 1112,270 1085,300 1085,284 1017,284"/>
<polygon class="arrow" points="1555,256 1612,256 1612,240 1637,270 1612,300 1612,284 1555,284"/>
<polygon class="arrow" points="1850,515 1881,515 1881,626 1898,626 1866,660 1833,626 1850,626"/>
<polygon class="arrow" points="1629,921 1596,921 1596,907 1570,937 1596,968 1596,953 1629,953"/>
<polygon class="arrow" points="1129,924 1096,924 1096,912 1071,937 1096,962 1096,950 1129,950"/>
<polygon class="arrow" points="390,923 337,923 337,906 310,937 337,968 337,950 390,950"/>
</g>
</svg>
